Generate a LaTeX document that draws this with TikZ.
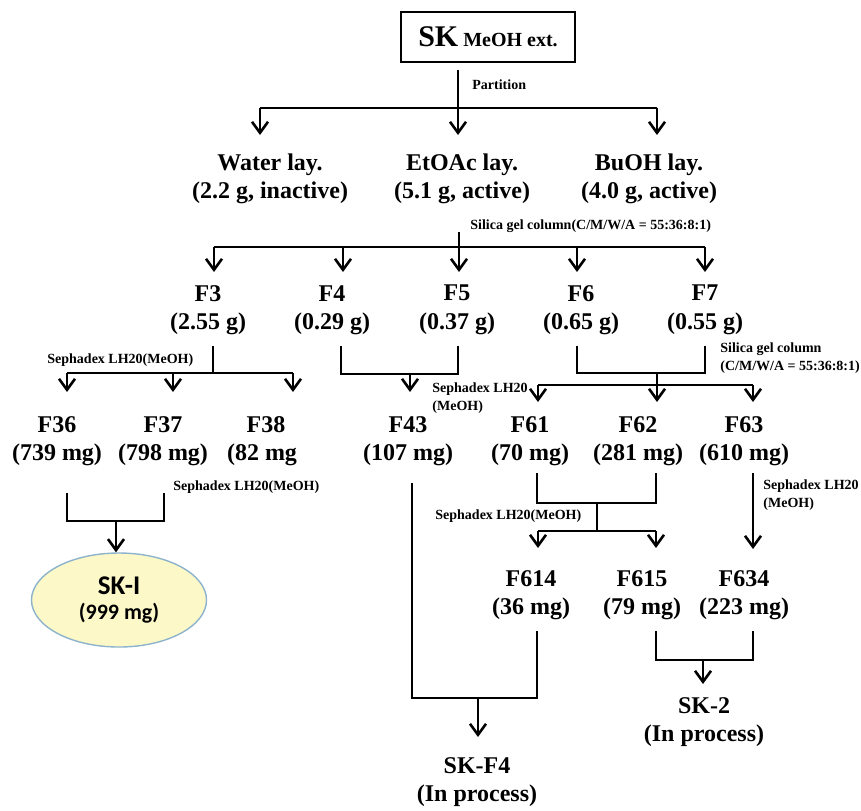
\documentclass[tikz,border=0pt]{standalone}
\usepackage{fontspec}
\setmainfont{Liberation Serif}[BoldFont={Liberation Serif Bold},ItalicFont={Liberation Serif Italic}]
\newfontfamily\calfont{Carlito}[BoldFont={Carlito Bold}]
\usetikzlibrary{arrows.meta,shapes.geometric}
\definecolor{ellfill}{HTML}{FCF8C8}
\definecolor{elldraw}{HTML}{8DB4CC}
\begin{document}
\begin{tikzpicture}[x=0.5pt,y=-0.5pt,
  ln/.style={line width=1.3pt},
  arr/.style={line width=1.3pt,-{Straight Barb[length=5.5pt,width=8pt]}},
  lbl/.style={font=\rmfamily\bfseries\fontsize{12}{14.25}\selectfont,align=center,inner sep=0pt},
  note/.style={font=\rmfamily\bfseries\fontsize{7}{9}\selectfont,align=left,inner sep=0pt,anchor=west},
]
\useasboundingbox (0,0) rectangle (861,810);

% ---------- nodes ----------
\node[draw,line width=0.7pt,minimum width=87pt,minimum height=25pt,inner sep=0pt,font=\rmfamily\bfseries] (sk) at (488,37)
  {{\fontsize{15}{15}\selectfont SK} {\fontsize{10}{10}\selectfont MeOH ext.}};

\node[lbl] (water) at (270,179) {Water lay.\\(2.2 g, inactive)};
\node[lbl] (etoac) at (462,179) {EtOAc lay.\\(5.1 g, active)};
\node[lbl] (buoh)  at (649,179) {BuOH lay.\\(4.0 g, active)};

\node[lbl] (f3) at (208,310) {F3\\(2.55 g)};
\node[lbl] (f4) at (332,310) {F4\\(0.29 g)};
\node[lbl] (f5) at (457,310) {F5\\(0.37 g)};
\node[lbl] (f6) at (581,310) {F6\\(0.65 g)};
\node[lbl] (f7) at (705,310) {F7\\(0.55 g)};

\node[lbl] (f36) at (57,441) {F36\\(739 mg)};
\node[lbl] (f37) at (163,441) {F37\\(798 mg)};
\node[lbl] (f38) at (266,441) {F38\\(82 mg\phantom{)}};
\node[lbl] (f43) at (408,441) {F43\\(107 mg)};
\node[lbl] (f61) at (530,441) {F61\\(70 mg)};
\node[lbl] (f62) at (638,441) {F62\\(281 mg)};
\node[lbl] (f63) at (744,441) {F63\\(610 mg)};

\node[lbl] (f614) at (531,595) {F614\\(36 mg)};
\node[lbl] (f615) at (642,595) {F615\\(79 mg)};
\node[lbl] (f634) at (744,595) {F634\\(223 mg)};

\node[lbl] (sk2) at (704,722) {SK-2\\(In process)};
\node[lbl] (skf4) at (477,782) {SK-F4\\(In process)};

\node[ellipse,draw=elldraw,fill=ellfill,line width=0.7pt,minimum width=87.5pt,minimum height=47pt,inner sep=0pt,
      align=center,font=\calfont\bfseries\fontsize{11}{12.5}\selectfont] (sk1) at (119,600)
  {{\fontsize{13.5}{12.5}\selectfont SK-I}\\(999 mg)};

% ---------- notes ----------
\node[note] (n1) at (472,85) {Partition};
\node[note] (n2) at (470,226) {Silica gel column(C/M/W/A = 55:36:8:1)};
\node[note] (n3) at (47,360) {Sephadex LH20(MeOH)};
\node[note] (n4) at (432,398) {Sephadex LH20\\(MeOH)};
\node[note] (n5) at (720,358) {Silica gel column\\(C/M/W/A = 55:36:8:1)};
\node[note] (n6) at (173,487) {Sephadex LH20(MeOH)};
\node[note] (n7) at (435,516) {Sephadex LH20(MeOH)};
\node[note] (n8) at (763,495) {Sephadex LH20\\(MeOH)};

% ---------- coordinates ----------
\coordinate (p0) at (458,70);  \coordinate (p1) at (458,108);
\coordinate (pL) at (260,108); \coordinate (pR) at (657,108);
\coordinate (tW) at (260,135); \coordinate (tE) at (458,135); \coordinate (tB) at (657,135);

\coordinate (s0) at (459,232); \coordinate (s1) at (459,247);
\coordinate (sL) at (214,247); \coordinate (sR) at (705,247);
\coordinate (s4) at (343,247); \coordinate (s6) at (577,247);
\coordinate (t3) at (214,272); \coordinate (t4) at (343,272); \coordinate (t5) at (459,272);
\coordinate (t6) at (577,272); \coordinate (t7) at (705,272);

\coordinate (c0) at (213,346); \coordinate (c1) at (213,373);
\coordinate (cL) at (67,373); \coordinate (cM) at (173,373); \coordinate (cR) at (293,373);
\coordinate (t36) at (67,392); \coordinate (t37) at (173,392); \coordinate (t38) at (293,392);

\coordinate (d4) at (341,346); \coordinate (d4b) at (341,374);
\coordinate (d5) at (458,346); \coordinate (d5b) at (458,374);
\coordinate (dM) at (410,374); \coordinate (t43) at (410,392);

\coordinate (e6) at (577,346); \coordinate (e6b) at (577,373);
\coordinate (e7) at (705,346); \coordinate (e7b) at (705,373);
\coordinate (eM) at (657,373); \coordinate (eM2) at (657,385);
\coordinate (eL) at (538,385); \coordinate (eR) at (753,385);
\coordinate (t61) at (538,402); \coordinate (t62) at (657,402); \coordinate (t63) at (753,402);

\coordinate (g36) at (67,493); \coordinate (g36b) at (67,521);
\coordinate (g37) at (164,493); \coordinate (g37b) at (164,521);
\coordinate (gM) at (116,521);

\coordinate (h0) at (412,483); \coordinate (h1) at (412,698);
\coordinate (h2) at (537,698); \coordinate (h3) at (537,631);
\coordinate (hM) at (478,698); \coordinate (tF4) at (478,737);

\coordinate (k1) at (537,473); \coordinate (k1b) at (537,503);
\coordinate (k2) at (656,473); \coordinate (k2b) at (656,503);
\coordinate (kM) at (597,503); \coordinate (kM2) at (597,531);
\coordinate (kL) at (538,531); \coordinate (kR) at (656,531);
\coordinate (t614) at (538,548); \coordinate (t615) at (656,548);

\coordinate (m0) at (753,473); \coordinate (t634) at (753,549);

\coordinate (q1) at (656,631); \coordinate (q1b) at (656,660);
\coordinate (q2) at (753,631); \coordinate (q2b) at (753,660);
\coordinate (qM) at (703,660); \coordinate (tSK2) at (703,684);

% ---------- connectors ----------
\draw[ln] (p0) -- (p1);
\draw[ln] (pL) -- (pR);
\draw[arr] (pL) -- (tW);
\draw[arr] (p1) -- (tE);
\draw[arr] (pR) -- (tB);

\draw[ln] (s0) -- (s1);
\draw[ln] (sL) -- (sR);
\draw[arr] (sL) -- (t3);
\draw[arr] (s4) -- (t4);
\draw[arr] (s1) -- (t5);
\draw[arr] (s6) -- (t6);
\draw[arr] (sR) -- (t7);

\draw[ln] (c0) -- (c1);
\draw[ln] (cL) -- (cR);
\draw[arr] (cL) -- (t36);
\draw[arr] (cM) -- (t37);
\draw[arr] (cR) -- (t38);

\draw[ln] (d4) -- (d4b) -- (d5b) -- (d5);
\draw[arr] (dM) -- (t43);

\draw[ln] (e6) -- (e6b) -- (e7b) -- (e7);
\draw[ln] (eM) -- (eM2);
\draw[ln] (eL) -- (eR);
\draw[arr] (eL) -- (t61);
\draw[arr] (eM2) -- (t62);
\draw[arr] (eR) -- (t63);

\draw[ln] (g36) -- (g36b) -- (g37b) -- (g37);
\draw[arr] (gM) -- (gM |- sk1.north);

\draw[ln] (h0) -- (h1) -- (h2) -- (h3);
\draw[arr] (hM) -- (tF4);

\draw[ln] (k1) -- (k1b) -- (k2b) -- (k2);
\draw[ln] (kM) -- (kM2);
\draw[ln] (kL) -- (kR);
\draw[arr] (kL) -- (t614);
\draw[arr] (kR) -- (t615);

\draw[arr] (m0) -- (t634);

\draw[ln] (q1) -- (q1b) -- (q2b) -- (q2);
\draw[arr] (qM) -- (tSK2);
\end{tikzpicture}
\end{document}
